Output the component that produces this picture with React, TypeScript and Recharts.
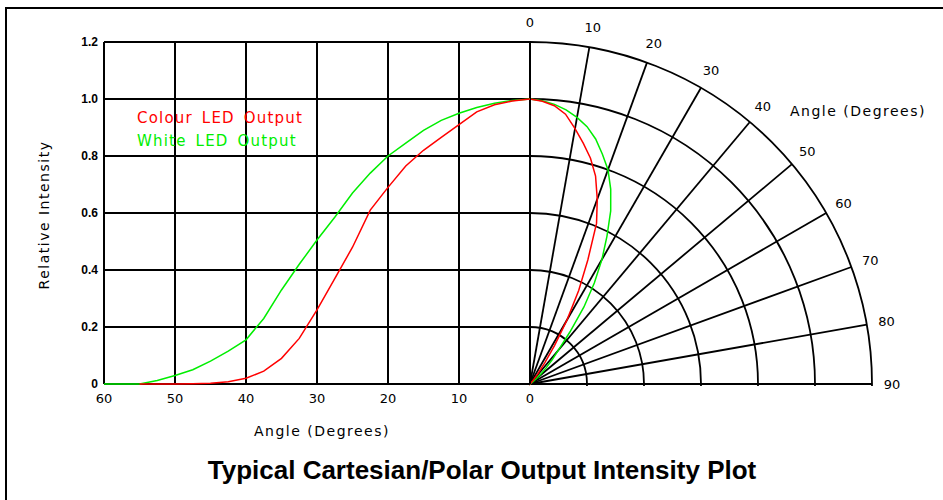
import React from 'react';
import {
  LineChart, Line, XAxis, YAxis, CartesianGrid,
  RadarChart, Radar, PolarGrid, PolarAngleAxis, PolarRadiusAxis,
} from 'recharts';

// off-axis angle (degrees) where both LEDs are read
const angles = [0, 2.5, 5, 7.5, 10, 12.5, 15, 17.5, 20, 22.5, 25, 27.5, 30, 32.5, 35, 37.5, 40, 42.5, 45, 47.5, 50, 52.5, 55, 57.5, 60];
// relative intensity, red curve
const colourLed = [1.0, 0.993, 0.98, 0.955, 0.91, 0.865, 0.82, 0.765, 0.69, 0.61, 0.48, 0.37, 0.26, 0.16, 0.09, 0.045, 0.02, 0.008, 0.003, 0.001, 0, 0, 0, null, null];
// relative intensity, green curve
const whiteLed = [1.0, 0.995, 0.985, 0.97, 0.95, 0.925, 0.89, 0.845, 0.8, 0.74, 0.67, 0.585, 0.505, 0.42, 0.33, 0.23, 0.155, 0.115, 0.08, 0.05, 0.03, 0.012, 0, 0, 0];

const cartesianTicks = [60, 50, 40, 30, 20, 10, 0];
const polarTicks = [0, 10, 20, 30, 40, 50, 60, 70, 80, 90];
const intensityTicks = [0, 0.2, 0.4, 0.6, 0.8, 1.0, 1.2];

const data = angles.map((angle, i) => ({ angle, colour: colourLed[i], white: whiteLed[i] }));

const RED = '#ff0000';
const GREEN = '#00ee00';
const CAD = '"DejaVu Sans", Verdana, sans-serif';
const ARIAL = '"Liberation Sans", Arial, sans-serif';

// polar centre sits on the cartesian "0" line
const CX = 530;
const CY = 384;
const R = 342;

const PolarTick = (props: any) => {
  const { x, y, payload } = props;
  return (
    <text x={x} y={y} textAnchor="middle" dominantBaseline="central" fontFamily={CAD} fontSize={13} fill="#000">
      {payload.value}
    </text>
  );
};

const abs = (left: number, top: number, extra: React.CSSProperties = {}): React.CSSProperties => ({
  position: 'absolute', left, top, whiteSpace: 'nowrap', lineHeight: 1, ...extra,
});

export default function App() {
  return (
    <div style={{ position: 'absolute', left: 0, top: 0, width: 943, height: 500, overflow: 'hidden', background: '#fff', fontFamily: CAD }}>
      <div style={{ position: 'absolute', left: 5, top: 7, width: 960, height: 520, border: '2px solid #000' }} />

      {/* polar grid + curves, clipped to the upper right quarter */}
      <div style={{ position: 'absolute', left: CX - 1, top: 0, width: 943 - CX + 1, height: CY + 2, overflow: 'hidden' }}>
        <div style={{ position: 'absolute', left: -(CX - 1), top: 0 }}>
          <RadarChart width={943} height={500} data={data} cx={CX} cy={CY} innerRadius={0} outerRadius={R}
            startAngle={90} endAngle={0} margin={{ top: 0, right: 0, bottom: 0, left: 0 }}>
            <PolarGrid gridType="circle" stroke="#000" strokeWidth={1.8} />
            <PolarAngleAxis dataKey="angle" type="number" domain={[0, 90]} ticks={polarTicks} tick={false} tickLine={false} axisLine={false} />
            <PolarRadiusAxis type="number" domain={[0, 1.2]} ticks={intensityTicks} tick={false} axisLine={false} />
            <Radar dataKey="white" stroke={GREEN} strokeWidth={1.5} fill="none" fillOpacity={0} dot={false} isAnimationActive={false} />
            <Radar dataKey="colour" stroke={RED} strokeWidth={1.5} fill="none" fillOpacity={0} dot={false} isAnimationActive={false} />
          </RadarChart>
        </div>
      </div>

      {/* polar angle labels, not clipped */}
      <div style={{ position: 'absolute', left: 0, top: 0 }}>
        <RadarChart width={943} height={500} data={data} cx={CX} cy={CY} innerRadius={0} outerRadius={R}
          startAngle={90} endAngle={0} margin={{ top: 0, right: 0, bottom: 0, left: 0 }}>
          <PolarAngleAxis dataKey="angle" type="number" domain={[0, 90]} ticks={polarTicks} tick={PolarTick}
            tickSize={20} tickLine={false} axisLine={false} />
        </RadarChart>
      </div>

      {/* cartesian half */}
      <div style={{ position: 'absolute', left: 0, top: 0 }}>
        <LineChart width={545} height={440} data={data} margin={{ top: 42, right: 15, bottom: 26, left: 0 }}>
          <CartesianGrid stroke="#000" strokeWidth={2} />
          <XAxis dataKey="angle" type="number" domain={[0, 60]} reversed ticks={cartesianTicks} interval={0}
            axisLine={false} tickLine={false} tickSize={6} tickMargin={4} height={30}
            tick={{ fill: '#000', fontSize: 13, fontFamily: CAD }} />
          <YAxis type="number" domain={[0, 1.2]} ticks={intensityTicks} interval={0}
            axisLine={false} tickLine={false} width={104} tickSize={6} tickMargin={0}
            tick={{ fill: '#000', fontSize: 12, fontWeight: 'bold', fontFamily: ARIAL }}
            tickFormatter={(v: number) => (v === 0 ? '0' : v.toFixed(1))} />
          <Line type="linear" dataKey="white" stroke={GREEN} strokeWidth={1.5} dot={false} isAnimationActive={false} />
          <Line type="linear" dataKey="colour" stroke={RED} strokeWidth={1.5} dot={false} isAnimationActive={false} />
        </LineChart>
      </div>

      <div style={abs(137, 118, { color: RED, fontSize: 15, letterSpacing: 1.2, wordSpacing: 3, transform: 'translateY(-50%)' })}>Colour LED Output</div>
      <div style={abs(137, 141, { color: GREEN, fontSize: 15, letterSpacing: 1.2, wordSpacing: 3, transform: 'translateY(-50%)' })}>White LED Output</div>

      <div style={abs(44, 215, { fontSize: 14, letterSpacing: 1.5, transform: 'translate(-50%, -50%) rotate(-90deg)' })}>Relative Intensity</div>
      <div style={abs(322, 431, { fontSize: 14, letterSpacing: 1.5, transform: 'translate(-50%, -50%)' })}>Angle (Degrees)</div>
      <div style={abs(790, 111, { fontSize: 14, letterSpacing: 1.5, transform: 'translateY(-50%)' })}>Angle (Degrees)</div>

      <div style={abs(482, 470, { fontFamily: ARIAL, fontWeight: 'bold', fontSize: 26, transform: 'translate(-50%, -50%)' })}>
        Typical Cartesian/Polar Output Intensity Plot
      </div>
    </div>
  );
}
